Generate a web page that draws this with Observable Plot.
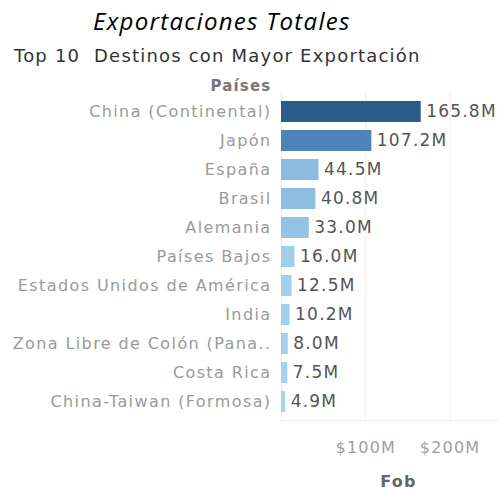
<!DOCTYPE html>
<html>
<head>
<meta charset="utf-8">
<script src="https://cdn.jsdelivr.net/npm/d3@7"></script>
<script src="https://cdn.jsdelivr.net/npm/@observablehq/plot@0.6"></script>
<style>
  html, body { margin: 0; padding: 0; background: #fff; }
  #title { height: 38px; line-height: 42px; font-family: "Open Sans", sans-serif; font-style: italic; font-size: 24px; letter-spacing: 1.3px; color: #000; padding-left: 93px; white-space: nowrap; }
  #subtitle { height: 32px; line-height: 36px; font-family: "DejaVu Sans", sans-serif; font-size: 18px; letter-spacing: 1.2px; color: #333; padding-left: 14px; white-space: nowrap; }
  #chart svg { display: block; }
  #chart svg text { letter-spacing: 1.2px; }
  #chart svg [aria-label="y-axis tick label"] text { letter-spacing: 1.4px; }
  #chart svg [aria-label="valores"] text { letter-spacing: 1.6px; }
</style>
</head>
<body>
<div id="title">Exportaciones Totales</div>
<div id="subtitle">Top 10&nbsp; Destinos con Mayor Exportación</div>
<div id="chart"></div>
<script>
const paises = [
  "China (Continental)", "Japón", "España", "Brasil", "Alemania", "Países Bajos",
  "Estados Unidos de América", "India", "Zona Libre de Colón (Pana..", "Costa Rica",
  "China-Taiwan (Formosa)"
];
const fobMillones = [165.8, 107.2, 44.5, 40.8, 33.0, 16.0, 12.5, 10.2, 8.0, 7.5, 4.9];
const ticksX = [100, 200];
const gridX = [0, 100, 200];

const data = paises.map((p, i) => ({pais: p, fob: fobMillones[i]}));

const font = "DejaVu Sans, sans-serif";
const chart = Plot.plot({
  width: 499,
  height: 419,
  marginLeft: 281,
  marginRight: 0,
  marginTop: 22,
  marginBottom: 69,
  style: {fontFamily: font, fontSize: "15px", background: "#fff"},
  x: {domain: [0, 258.7], axis: null},
  y: {domain: paises, padding: 0.28, axis: null},
  color: {
    type: "linear",
    domain: [0, 40, 110, 165.8],
    range: ["#aad6f2", "#8fbfe3", "#4b7fb7", "#2c5a8a"]
  },
  marks: [
    Plot.ruleX(gridX, {stroke: "#ececec", strokeWidth: 1}),
    Plot.frame({anchor: "bottom", stroke: "#ececec"}),
    Plot.barX(data, {y: "pais", x: "fob", fill: "fob"}),
    Plot.text(data, {
      y: "pais", x: "fob", text: d => d.fob.toFixed(1) + "M",
      textAnchor: "start", dx: 5, fill: "#555", fontSize: 17, ariaLabel: "valores"
    }),
    Plot.axisY({tickSize: 0, tickPadding: 10, label: null, color: "#9a9a9a", fontSize: 16}),
    Plot.axisX({
      ticks: ticksX, tickSize: 0, tickPadding: 21,
      tickFormat: d => "$" + d + "M", color: "#a0a0a0", fontSize: 16,
      label: null
    }),
    Plot.text(["Fob"], {frameAnchor: "bottom", dy: 66, dx: 8, fill: "#666", fontWeight: "bold", fontSize: 16}),
    Plot.text(["Países"], {frameAnchor: "top-left", dx: -10, dy: -12, textAnchor: "end", fill: "#777", fontWeight: "bold", fontSize: 15})
  ]
});
document.getElementById("chart").appendChild(chart);
</script>
</body>
</html>
